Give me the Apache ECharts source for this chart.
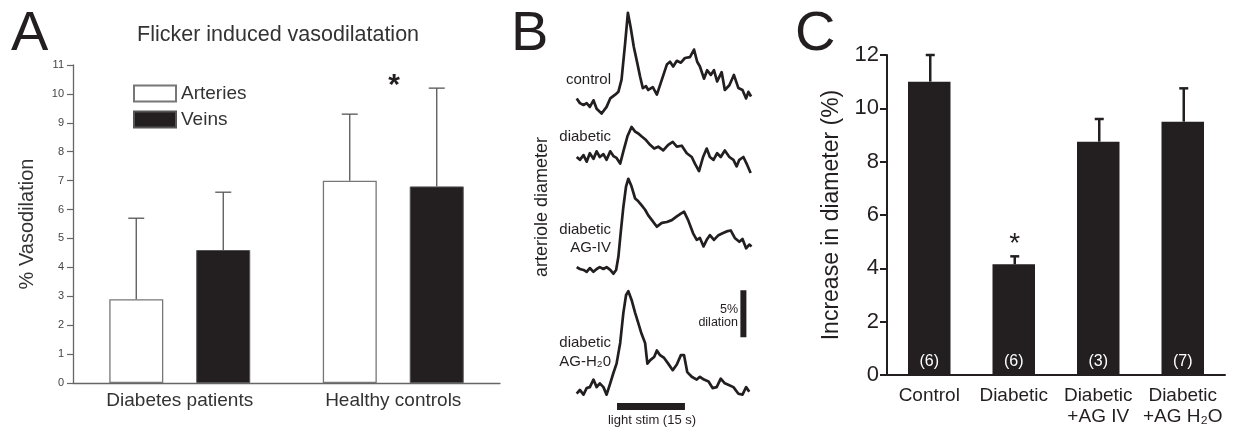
<!DOCTYPE html>
<html>
<head>
<meta charset="utf-8">
<script src="https://cdn.jsdelivr.net/npm/echarts@6/dist/echarts.min.js"></script>
<style>
html,body{margin:0;padding:0;background:#fff;}
#chart{width:1234px;height:429px;}
</style>
</head>
<body>
<div id="chart"></div>
<script>
// ---------- Panel A data ----------
const aCategories = ['Diabetes patients', 'Healthy controls'];
const aArteriesMean = [2.9, 7.0];
const aArteriesSD = [2.8, 2.3];
const aVeinsMean = [4.6, 6.8];
const aVeinsSD = [2.0, 3.4];

// ---------- Panel B data (time in s, diameter change in %) ----------
const traceControl = [[0.0,0.7],[0.7,0.2],[1.5,0.0],[2.2,0.2],[2.9,-0.2],[3.7,0.5],[4.4,-0.4],[5.5,-0.9],[6.6,-0.2],[7.4,0.7],[8.5,1.1],[9.2,1.4],[9.9,2.7],[10.7,6.6],[11.3,9.8],[11.9,8.3],[12.6,6.2],[13.4,4.4],[14.0,3.0],[14.6,1.8],[15.3,2.0],[15.8,1.6],[16.8,1.9],[17.7,1.1],[18.8,2.7],[19.9,4.3],[20.6,4.6],[21.3,4.1],[22.1,4.7],[23.0,4.5],[23.9,5.0],[25.0,5.1],[25.9,5.9],[26.6,4.6],[27.2,4.1],[28.1,2.8],[28.8,3.7],[29.6,3.2],[30.3,3.7],[31.0,2.5],[32.0,3.5],[32.7,1.6],[33.7,2.1],[34.7,3.2],[35.7,1.8],[36.6,1.6],[37.4,0.7],[37.9,1.4],[38.5,0.9]];
const traceDiabetic = [[0.0,0.0],[0.7,-0.3],[1.5,0.2],[2.2,-0.5],[2.9,0.4],[3.7,-0.2],[4.4,0.6],[5.1,0.0],[5.9,0.3],[6.6,-0.3],[7.4,0.6],[8.1,0.1],[8.8,-0.1],[9.6,-0.7],[10.3,0.6],[11.2,2.2],[12.1,3.2],[12.9,2.7],[13.6,2.5],[14.3,2.2],[15.3,1.8],[16.2,1.3],[17.1,0.9],[18.0,1.1],[19.1,0.7],[20.2,1.3],[21.2,1.6],[22.1,1.1],[23.2,1.2],[24.3,0.4],[25.4,0.0],[26.1,-0.7],[27.0,-1.5],[27.9,0.0],[28.7,0.9],[29.4,0.0],[30.2,-0.3],[31.0,0.4],[31.8,0.0],[32.7,0.7],[33.7,0.0],[34.6,-0.3],[35.3,-1.0],[35.9,-0.3],[36.8,0.0],[37.5,-0.7],[38.4,-1.7]];
const traceAGIV = [[0.0,0.2],[0.7,0.0],[1.5,-0.1],[2.2,-0.3],[2.9,0.1],[3.7,-0.3],[4.4,0.0],[5.1,0.2],[5.9,0.0],[6.6,0.2],[7.4,-0.1],[8.1,-0.5],[8.7,-0.1],[9.2,1.3],[9.7,3.8],[10.3,6.6],[10.9,8.8],[11.4,9.6],[12.1,8.8],[12.9,7.5],[13.6,7.2],[14.3,6.8],[15.1,6.3],[15.8,5.7],[16.6,5.2],[17.7,4.5],[18.8,4.9],[19.9,5.0],[21.0,5.2],[22.1,5.6],[23.0,5.9],[23.7,6.1],[24.6,5.2],[25.7,3.8],[26.5,3.1],[27.2,3.3],[28.0,2.4],[28.7,3.1],[29.4,3.6],[30.3,3.1],[31.3,3.6],[32.2,3.8],[33.1,4.0],[34.0,4.1],[34.9,3.3],[35.9,2.9],[36.6,3.2],[37.4,2.2],[38.1,2.6],[38.6,2.4]];
const traceAGH2O = [[0.0,-0.5],[0.7,-0.1],[1.5,-0.6],[2.2,0.1],[2.9,0.2],[3.7,1.0],[4.4,0.2],[5.1,0.6],[5.9,0.2],[6.6,-0.6],[7.4,0.6],[8.1,1.7],[8.8,2.7],[9.6,4.9],[10.3,8.1],[10.9,10.0],[11.4,10.4],[12.1,9.5],[12.9,8.1],[13.6,7.0],[14.3,5.9],[15.1,4.9],[15.6,2.7],[16.3,3.1],[17.1,3.4],[17.7,4.1],[18.4,3.6],[19.3,3.3],[20.2,2.7],[21.2,2.0],[22.1,2.6],[23.0,3.6],[23.7,3.6],[24.4,1.8],[25.4,1.3],[26.5,1.0],[27.2,1.3],[28.1,1.0],[29.1,0.8],[30.0,0.1],[30.9,0.2],[31.8,1.1],[32.7,0.6],[33.7,0.4],[34.6,0.2],[35.7,-0.5],[36.6,-0.6],[37.4,0.2],[38.1,-0.3]];
const traceLabels = ['control', 'diabetic', 'diabetic\nAG-IV', 'diabetic\nAG-H\u20820'];
const stimStart = 8.9, stimEnd = 23.9;       // light stim (15 s)
const scaleBarTime = 36.8, scaleBarFrom = 5.5, scaleBarTo = 10.5; // 5% dilation

// ---------- Panel C data ----------
const cCategories = ['Control', 'Diabetic', 'Diabetic\n+AG IV', 'Diabetic\n+AG H\u2082O'];
const cMean = [11.0, 4.15, 8.75, 9.5];
const cSEM = [1.0, 0.3, 0.85, 1.25];
const cN = [6, 6, 3, 7];
const cSig = ['', '*', '', ''];

const FONT = '"Liberation Sans", Arial, Helvetica, sans-serif';
const INK = '#231f20';

const chart = echarts.init(document.getElementById('chart'), null, {renderer: 'canvas'});

function errA(sign) {
  return function (params, api) {
    const cat = api.value(0), mean = api.value(1), sd = api.value(2);
    const x = api.coord([cat, 0])[0] + sign * 43.5;
    const y0 = api.coord([cat, mean])[1];
    const y1 = api.coord([cat, mean + sd])[1];
    const st = {stroke: '#555', lineWidth: 1.3};
    return {type: 'group', children: [
      {type: 'line', shape: {x1: x, y1: y0, x2: x, y2: y1}, style: st},
      {type: 'line', shape: {x1: x - 8, y1: y1, x2: x + 8, y2: y1}, style: st}
    ]};
  };
}
function errC(params, api) {
  const cat = api.value(0), mean = api.value(1), sem = api.value(2);
  const x = api.coord([cat, 0])[0] + 1;
  const y0 = api.coord([cat, mean])[1];
  const y1 = api.coord([cat, mean + sem])[1];
  const st = {stroke: INK, lineWidth: 2.5};
  const children = [
    {type: 'line', shape: {x1: x, y1: y0, x2: x, y2: y1}, style: st},
    {type: 'line', shape: {x1: x - 4.5, y1: y1, x2: x + 4.5, y2: y1}, style: st}
  ];
  const sig = cSig[params.dataIndex];
  if (sig) {
    children.push({type: 'text', x: x, y: y1 + 2, style: {text: sig, fill: INK, font: '28px ' + FONT, align: 'center', verticalAlign: 'bottom'}});
  }
  return {type: 'group', children: children};
}

const traces = [traceControl, traceDiabetic, traceAGIV, traceAGH2O];
const baselines = [105, 157, 269, 389];   // pixel row of each trace's 0 %
const pxPerPct = 9.4, yMinB = -2, yMaxB = 11;

const grids = [{left: 73, top: 65, width: 427, height: 318}];
baselines.forEach(b => grids.push({left: 576.7, width: 175.3, top: b - yMaxB * pxPerPct, height: (yMaxB - yMinB) * pxPerPct}));
grids.push({left: 887, top: 55, width: 338, height: 320});

const xAxes = [{
  type: 'category', gridIndex: 0, data: aCategories,
  axisLine: {lineStyle: {color: '#666', width: 1.3}}, axisTick: {show: false},
  axisLabel: {fontSize: 19, color: '#333', margin: 8, fontFamily: FONT}
}];
const yAxes = [{
  type: 'value', gridIndex: 0, min: 0, max: 11, interval: 1,
  axisLine: {show: true, lineStyle: {color: '#666', width: 1.3}},
  axisTick: {show: true, length: 6, lineStyle: {color: '#666', width: 1.2}},
  axisLabel: {fontSize: 11, color: '#444', margin: 9, fontFamily: FONT},
  splitLine: {show: false},
  name: '% Vasodilation', nameLocation: 'middle', nameGap: 36,
  nameTextStyle: {fontSize: 20, color: '#333', fontFamily: FONT}
}];
traces.forEach((t, i) => {
  xAxes.push({type: 'value', gridIndex: i + 1, min: 0, max: 38.7, show: false});
  yAxes.push({type: 'value', gridIndex: i + 1, min: yMinB, max: yMaxB, show: false});
});
xAxes.push({
  type: 'category', gridIndex: 5, data: cCategories,
  axisLine: {lineStyle: {color: INK, width: 2}}, axisTick: {show: false},
  axisLabel: {fontSize: 19, color: INK, margin: 10, lineHeight: 21, interval: 0, fontFamily: FONT}
});
yAxes.push({
  type: 'value', gridIndex: 5, min: 0, max: 12, interval: 2,
  axisLine: {show: true, lineStyle: {color: INK, width: 2}},
  axisTick: {show: true, length: 7, lineStyle: {color: INK, width: 2}},
  axisLabel: {fontSize: 22, color: INK, margin: 8, fontFamily: FONT},
  splitLine: {show: false},
  name: 'Increase in diameter (%)', nameLocation: 'middle', nameGap: 44,
  nameTextStyle: {fontSize: 23, color: INK, fontFamily: FONT}
});

const series = [
  {name: 'Arteries', type: 'bar', xAxisIndex: 0, yAxisIndex: 0, data: aArteriesMean, barWidth: 54, barGap: '61%',
   itemStyle: {color: '#fff', borderColor: '#777', borderWidth: 1.3}},
  {name: 'Veins', type: 'bar', xAxisIndex: 0, yAxisIndex: 0, data: aVeinsMean, barWidth: 54, barGap: '61%',
   itemStyle: {color: INK, borderColor: '#555', borderWidth: 1}},
  {type: 'custom', xAxisIndex: 0, yAxisIndex: 0, renderItem: errA(-1), z: 5,
   data: aCategories.map((c, i) => [i, aArteriesMean[i], aArteriesSD[i]])},
  {type: 'custom', xAxisIndex: 0, yAxisIndex: 0, renderItem: errA(1), z: 5,
   data: aCategories.map((c, i) => [i, aVeinsMean[i], aVeinsSD[i]])}
];
traces.forEach((t, i) => {
  series.push({type: 'line', xAxisIndex: i + 1, yAxisIndex: i + 1, data: t, showSymbol: false, silent: true,
    lineStyle: {color: INK, width: 2.7, join: 'round'}});
});
series.push({type: 'line', xAxisIndex: 4, yAxisIndex: 4, data: [[stimStart, -1.86], [stimEnd, -1.86]], showSymbol: false, clip: false,
  lineStyle: {color: INK, width: 7, cap: 'butt'}});
series.push({type: 'line', xAxisIndex: 4, yAxisIndex: 4, data: [[scaleBarTime, scaleBarFrom], [scaleBarTime, scaleBarTo]], showSymbol: false, clip: false,
  lineStyle: {color: INK, width: 6, cap: 'butt'}});
series.push({type: 'bar', xAxisIndex: 5, yAxisIndex: 5, data: cMean, barWidth: 42.5,
  itemStyle: {color: INK},
  label: {show: true, position: 'insideBottom', distance: 5, color: '#fff', fontSize: 16, fontFamily: FONT,
    formatter: p => '(' + cN[p.dataIndex] + ')'}});
series.push({type: 'custom', xAxisIndex: 5, yAxisIndex: 5, renderItem: errC, z: 5,
  data: cCategories.map((c, i) => [i, cMean[i], cSEM[i]])});

function txt(x, y, text, size, align, vAlign, extra) {
  return Object.assign({type: 'text', x: x, y: y, silent: true,
    style: {text: text, fill: INK, font: size + 'px ' + FONT, align: align, verticalAlign: vAlign, lineHeight: Math.round(size * 1.2)}}, extra || {});
}
const labelY = [80, 136.7, 239, 352.5];
const graphic = [
  txt(11, 35, 'A', 56, 'left', 'middle'),
  txt(511, 35, 'B', 56, 'left', 'middle'),
  txt(795, 35, 'C', 56, 'left', 'middle'),
  txt(394, 86, '*', 30, 'center', 'middle', {style: {text: '*', fill: INK, font: 'bold 30px ' + FONT, align: 'center', verticalAlign: 'middle'}}),
  txt(542, 207, 'arteriole diameter', 18, 'center', 'middle', {rotation: Math.PI / 2}),
  txt(738, 310, '5%', 12.5, 'right', 'middle'),
  txt(738, 323, 'dilation', 12.5, 'right', 'middle'),
  txt(652, 420, 'light stim (15 s)', 13, 'center', 'middle')
];
traceLabels.forEach((l, i) => {
  const g = txt(611, labelY[i], l, 15, 'right', 'middle');
  g.style.lineHeight = 18.5;
  graphic.push(g);
});

chart.setOption({
  animation: false,
  backgroundColor: '#fff',
  textStyle: {fontFamily: FONT},
  title: {text: 'Flicker induced vasodilatation', left: 137, top: 24, padding: 0,
    textStyle: {fontSize: 21.5, fontWeight: 'normal', color: '#333', fontFamily: FONT}},
  legend: {data: ['Arteries', 'Veins'], orient: 'vertical', left: 133, top: 84, padding: 0, itemWidth: 42, itemHeight: 16, itemGap: 7,
    icon: 'rect', selectedMode: false,
    textStyle: {fontSize: 19, color: '#333', lineHeight: 16, fontFamily: FONT}},
  grid: grids,
  xAxis: xAxes,
  yAxis: yAxes,
  series: series,
  graphic: graphic
});
</script>
</body>
</html>
